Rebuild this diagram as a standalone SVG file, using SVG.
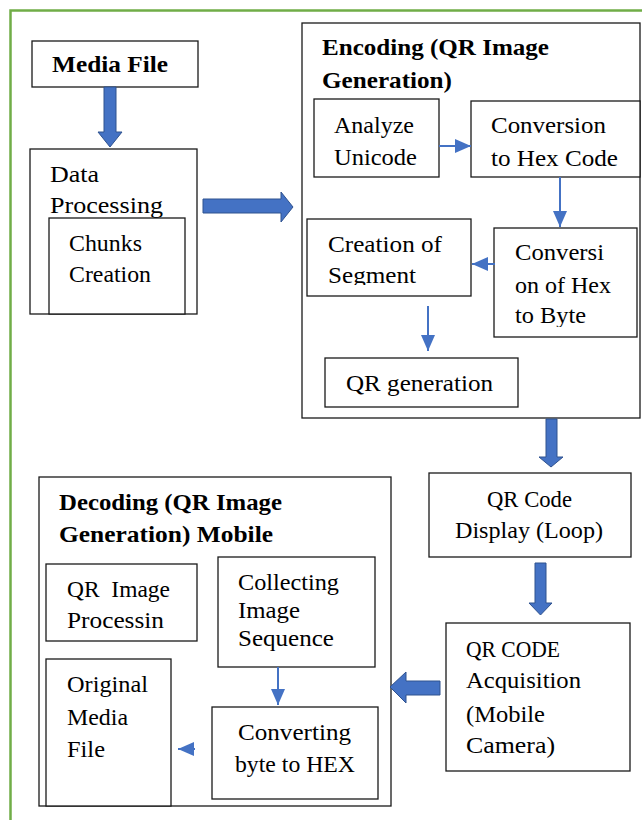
<svg xmlns="http://www.w3.org/2000/svg" width="642" height="820" viewBox="0 0 642 820">
<style>
.frame{fill:none;stroke:#70AD47;stroke-width:2.5}
.box{fill:#fff;stroke:#1a1a1a;stroke-width:1.3}
.t{font-family:"Liberation Serif","Times New Roman",serif;font-size:23px;fill:#000}
.b{font-weight:bold}
.blk{fill:#4472C4;stroke:#2F528F;stroke-width:1}
.thin{stroke:#4472C4;stroke-width:2;fill:none;marker-end:url(#ah)}
</style>
<defs>
<marker id="ah" viewBox="0 0 16 14" refX="16" refY="7" markerWidth="16" markerHeight="14" markerUnits="userSpaceOnUse" orient="auto">
<path d="M0,0 L16,7 L0,14 z" fill="#4472C4"/>
</marker>
<clipPath id="clipSeg"><rect x="307" y="219" width="164" height="66"/></clipPath>
<clipPath id="clipByte"><rect x="494" y="228" width="143" height="99"/></clipPath>
</defs>
<rect width="642" height="820" fill="#fff"/>
<rect class="frame" x="10.5" y="10.5" width="700" height="900"/>

<g id="media-file">
<rect class="box" x="32" y="41" width="166" height="46"/>
<text class="t b" x="52" y="72" textLength="116" lengthAdjust="spacingAndGlyphs">Media File</text>
</g>
<g id="data-processing">
<rect class="box" x="30" y="149" width="167" height="165"/>
<text class="t" x="50" y="182" textLength="49" lengthAdjust="spacingAndGlyphs">Data</text>
<text class="t" x="50" y="213" textLength="113" lengthAdjust="spacingAndGlyphs">Processing</text>
</g>
<g id="chunks-creation">
<rect class="box" x="49" y="218" width="136" height="96"/>
<text class="t" x="69" y="251" textLength="73" lengthAdjust="spacingAndGlyphs">Chunks</text>
<text class="t" x="69" y="282" textLength="82" lengthAdjust="spacingAndGlyphs">Creation</text>
</g>

<g id="encoding">
<rect class="box" x="302" y="23" width="338" height="395"/>
<text class="t b" x="322" y="55" textLength="227" lengthAdjust="spacingAndGlyphs">Encoding (QR Image</text>
<text class="t b" x="322" y="88" textLength="130" lengthAdjust="spacingAndGlyphs">Generation)</text>
</g>
<g id="analyze-unicode">
<rect class="box" x="314" y="99" width="125" height="78"/>
<text class="t" x="334" y="133" textLength="80" lengthAdjust="spacingAndGlyphs">Analyze</text>
<text class="t" x="334" y="165" textLength="83" lengthAdjust="spacingAndGlyphs">Unicode</text>
</g>
<g id="conversion-hex">
<rect class="box" x="471" y="101" width="169" height="76"/>
<text class="t" x="491" y="133" textLength="115" lengthAdjust="spacingAndGlyphs">Conversion</text>
<text class="t" x="491" y="166" textLength="127" lengthAdjust="spacingAndGlyphs">to Hex Code</text>
</g>
<g id="conversion-byte">
<rect class="box" x="494" y="228" width="143" height="109"/>
<g clip-path="url(#clipByte)">
<text class="t" x="515" y="260" textLength="89" lengthAdjust="spacingAndGlyphs">Conversi</text>
<text class="t" x="515" y="293" textLength="96" lengthAdjust="spacingAndGlyphs">on of Hex</text>
<text class="t" x="515" y="323" textLength="71" lengthAdjust="spacingAndGlyphs">to Byte</text>
</g>
</g>
<g id="creation-segment">
<rect class="box" x="307" y="219" width="164" height="77"/>
<g clip-path="url(#clipSeg)">
<text class="t" x="328" y="252" textLength="114" lengthAdjust="spacingAndGlyphs">Creation of</text>
<text class="t" x="328" y="283" textLength="88" lengthAdjust="spacingAndGlyphs">Segment</text>
</g>
</g>
<g id="qr-generation">
<rect class="box" x="325" y="358" width="193" height="49"/>
<text class="t" x="346" y="391" textLength="147" lengthAdjust="spacingAndGlyphs">QR generation</text>
</g>

<g id="qr-display">
<rect class="box" x="429" y="473" width="202" height="84"/>
<text class="t" x="487" y="507" textLength="85" lengthAdjust="spacingAndGlyphs">QR Code</text>
<text class="t" x="455" y="538" textLength="148" lengthAdjust="spacingAndGlyphs">Display (Loop)</text>
</g>
<g id="qr-acquisition">
<rect class="box" x="446" y="623" width="184" height="148"/>
<text class="t" x="466" y="657" textLength="94" lengthAdjust="spacingAndGlyphs">QR CODE</text>
<text class="t" x="466" y="688" textLength="115" lengthAdjust="spacingAndGlyphs">Acquisition</text>
<text class="t" x="466" y="722" textLength="79" lengthAdjust="spacingAndGlyphs">(Mobile</text>
<text class="t" x="466" y="753" textLength="89" lengthAdjust="spacingAndGlyphs">Camera)</text>
</g>

<g id="decoding">
<rect class="box" x="39" y="477" width="352" height="329"/>
<text class="t b" x="59" y="510" textLength="223" lengthAdjust="spacingAndGlyphs">Decoding (QR Image</text>
<text class="t b" x="59" y="542" textLength="214" lengthAdjust="spacingAndGlyphs">Generation) Mobile</text>
</g>
<g id="qr-image-processing">
<rect class="box" x="46" y="564" width="151" height="77"/>
<text class="t" x="67" y="597" textLength="103" lengthAdjust="spacingAndGlyphs" xml:space="preserve">QR  Image</text>
<text class="t" x="67" y="628" textLength="97" lengthAdjust="spacingAndGlyphs">Processin</text>
</g>
<g id="collecting">
<rect class="box" x="218" y="557" width="157" height="110"/>
<text class="t" x="238" y="590" textLength="101" lengthAdjust="spacingAndGlyphs">Collecting</text>
<text class="t" x="238" y="618" textLength="62" lengthAdjust="spacingAndGlyphs">Image</text>
<text class="t" x="238" y="646" textLength="96" lengthAdjust="spacingAndGlyphs">Sequence</text>
</g>
<g id="converting">
<rect class="box" x="212" y="707" width="166" height="92"/>
<text class="t" x="238" y="740" textLength="113" lengthAdjust="spacingAndGlyphs">Converting</text>
<text class="t" x="235" y="772" textLength="120" lengthAdjust="spacingAndGlyphs">byte to HEX</text>
</g>
<g id="original-media">
<rect class="box" x="46" y="659" width="125" height="147"/>
<text class="t" x="67" y="692" textLength="81" lengthAdjust="spacingAndGlyphs">Original</text>
<text class="t" x="67" y="725" textLength="61" lengthAdjust="spacingAndGlyphs">Media</text>
<text class="t" x="67" y="757" textLength="38" lengthAdjust="spacingAndGlyphs">File</text>
</g>

<g id="connectors">
<polygon class="blk" points="104,87 116,87 116,132 122,132 110,147 98,132 104,132"/>
<polygon class="blk" points="203,199 281,199 281,192 293,207 281,222 281,213 203,213"/>
<polygon class="blk" points="546,419 557,419 557,457 563,457 551,467 539,457 546,457"/>
<polygon class="blk" points="535,563 546,563 546,603 552,603 540.5,615 529,603 535,603"/>
<polygon class="blk" points="440,681 406,681 406,672 390,687 406,703 406,695 440,695"/>
<line class="thin" x1="439" y1="146" x2="471" y2="146"/>
<line class="thin" x1="560" y1="177" x2="560" y2="227"/>
<line class="thin" x1="495" y1="264" x2="472" y2="264"/>
<line class="thin" x1="428" y1="306" x2="428" y2="351"/>
<line class="thin" x1="278" y1="667" x2="278" y2="705"/>
<line class="thin" x1="195" y1="749" x2="178" y2="749"/>
</g>
</svg>
